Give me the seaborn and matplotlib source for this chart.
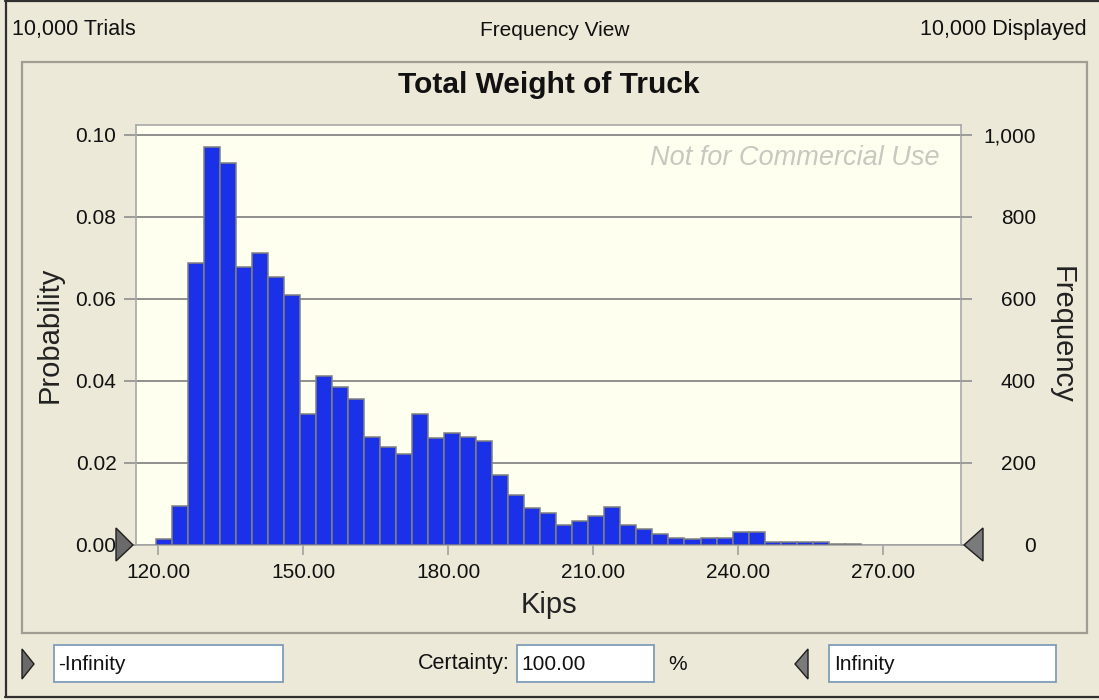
import numpy as np
import pandas as pd
import matplotlib
matplotlib.use("Agg")
import matplotlib.pyplot as plt
from matplotlib.patches import Rectangle, Polygon
from matplotlib.lines import Line2D
from matplotlib.ticker import FixedLocator, FuncFormatter
import seaborn as sns

# ---- simulation results: Total Weight of Truck (kips) ----
trials = 10000
bin_start = 119.46          # lower edge of first bin (kips)
bin_width = 3.318           # bin width (kips)
frequency = [15, 96, 687, 970, 932, 678, 712, 653, 609, 320,
             412, 385, 356, 263, 238, 223, 320, 261, 273, 263,
             253, 170, 121, 91, 77, 48, 58, 71, 92, 48,
             38, 28, 18, 14, 17, 16, 32, 32, 7, 7,
             7, 7, 3, 3]
kips_ticks = [120, 150, 180, 210, 240, 270]
prob_ticks = [0.00, 0.02, 0.04, 0.06, 0.08, 0.10]
freq_ticks = [0, 200, 400, 600, 800, 1000]

edges = bin_start + bin_width * np.arange(len(frequency) + 1)
centers = 0.5 * (edges[:-1] + edges[1:])
df = pd.DataFrame({"kips": centers,
                   "probability": np.array(frequency) / trials})

sns.set_theme(style="white")
plt.rcParams["font.family"] = ["Liberation Sans", "DejaVu Sans"]

W, H = 1099, 700
BG = "#ECE9D8"
fig = plt.figure(figsize=(W / 100, H / 100), dpi=100, facecolor=BG)


def fx(x):
    return x / W


def fy(y):
    return 1 - y / H


# plot area
ax = fig.add_axes([fx(136), fy(545), (961 - 136) / W, (545 - 125) / H])
ax.set_facecolor("#FFFFF0")

sns.histplot(data=df, x="kips", weights="probability",
             binwidth=bin_width, binrange=(edges[0], edges[-1]), ax=ax,
             color="#1B31E8", edgecolor="#808080", linewidth=1.1,
             alpha=1, zorder=3)

ax.set_xlim(115.4, 286.2)
ax.set_ylim(0, 0.10243)
ax.xaxis.set_major_locator(FixedLocator(kips_ticks))
ax.xaxis.set_major_formatter(FuncFormatter(lambda v, p: f"{v:.2f}"))
ax.yaxis.set_major_locator(FixedLocator(prob_ticks))
ax.yaxis.set_major_formatter(FuncFormatter(lambda v, p: f"{v:.2f}"))
ax.yaxis.grid(True, color="#8E8E8E", linewidth=1.4)
ax.xaxis.grid(False)
ax.set_axisbelow(True)

ax.tick_params(axis="y", which="major", left=True, length=8.6, width=1.2,
               color="#8E8E8E", pad=5.5, labelsize=15, labelcolor="#111111")
ax.tick_params(axis="x", which="major", bottom=True, length=7, width=1.2,
               color="#A0A0A0", pad=6, labelsize=15, labelcolor="#111111")
for s in ax.spines.values():
    s.set_color("#A8A8A8")
    s.set_linewidth(1.2)

ax.set_xlabel("Kips", fontsize=21, color="#222222")
ax.xaxis.set_label_coords(0.5, (545 - 605) / 420)
ax.xaxis.label.set_va("center")
ax.set_ylabel("Probability", fontsize=21, color="#222222")
ax.yaxis.set_label_coords((50 - 136) / 825, 0.5)
ax.yaxis.label.set_va("center")

# frequency axis on the right
ax2 = ax.twinx()
ax2.set_ylim(0, 1024.3)
ax2.yaxis.set_major_locator(FixedLocator(freq_ticks))
ax2.yaxis.set_major_formatter(FuncFormatter(lambda v, p: f"{int(v):,}"))
ax2.tick_params(axis="y", which="major", right=True, length=8, width=1.2,
                color="#8E8E8E", pad=46, labelsize=15, labelcolor="#111111")
for t in ax2.yaxis.get_major_ticks():
    t.label2.set_horizontalalignment("right")
for s in ax2.spines.values():
    s.set_visible(False)
ax2.grid(False)
ax2.set_ylabel("Frequency", fontsize=21, color="#222222", rotation=270)
ax2.yaxis.set_label_coords((1062 - 136) / 825, 0.5)
ax2.yaxis.label.set_va("center")
ax2.yaxis.label.set_ha("center")

# watermark
fig.text(fx(940), fy(158), "Not for Commercial Use", ha="right", va="center",
         style="italic", color="#C8C8C0", fontsize=19.5)

# chart title and header
fig.text(fx(549), fy(85), "Total Weight of Truck", ha="center", va="center",
         fontsize=21.5, weight="bold", color="#111111")
fig.text(fx(12), fy(30), "10,000 Trials", ha="left", va="center",
         fontsize=15.5, color="#111111")
fig.text(fx(555), fy(30), "Frequency View", ha="center", va="center",
         fontsize=15, color="#111111")
fig.text(fx(1087), fy(30), "10,000 Displayed", ha="right", va="center",
         fontsize=15.5, color="#111111")

# window frame and chart panel
for xs, ys in [((5.5, 5.5), (0, 697)), ((5, 1099), (1, 1)), ((5, 1099), (697, 697))]:
    fig.add_artist(Line2D([fx(v) for v in xs], [fy(v) for v in ys],
                          color="#303030", linewidth=1.6))
fig.add_artist(Rectangle((fx(22), fy(633)), (1087 - 22) / W, (633 - 62) / H,
                         fill=False, edgecolor="#A09E94", linewidth=1.6,
                         transform=fig.transFigure))


def tri(points, face):
    fig.add_artist(Polygon([(fx(a), fy(b)) for a, b in points], closed=True,
                           facecolor=face, edgecolor="#1E1E1E", linewidth=1.0,
                           transform=fig.transFigure, zorder=10))


# certainty grabbers on the axis
tri([(116, 528), (116, 561), (133, 545)], "#6A6A6A")
tri([(983, 528), (983, 561), (964, 545)], "#7A7A7A")

# certainty controls
tri([(22, 649), (22, 679), (34, 664)], "#6A6A6A")
tri([(808, 649), (808, 679), (795, 664)], "#7A7A7A")
for x0, x1 in [(54, 283), (517, 654), (829, 1056)]:
    fig.add_artist(Rectangle((fx(x0), fy(682)), (x1 - x0) / W, (682 - 645) / H,
                             facecolor="white", edgecolor="#7F9DB9",
                             linewidth=1.3, transform=fig.transFigure))
fig.text(fx(58), fy(664), "-Infinity", ha="left", va="center", fontsize=15,
         color="#111111")
fig.text(fx(510), fy(664), "Certainty:", ha="right", va="center",
         fontsize=15.5, color="#111111")
fig.text(fx(521), fy(664), "100.00", ha="left", va="center", fontsize=15,
         color="#111111")
fig.text(fx(668), fy(664), "%", ha="left", va="center", fontsize=15,
         color="#111111")
fig.text(fx(834), fy(664), "Infinity", ha="left", va="center", fontsize=15,
         color="#111111")

fig.savefig("out.png", dpi=100, facecolor=BG)
